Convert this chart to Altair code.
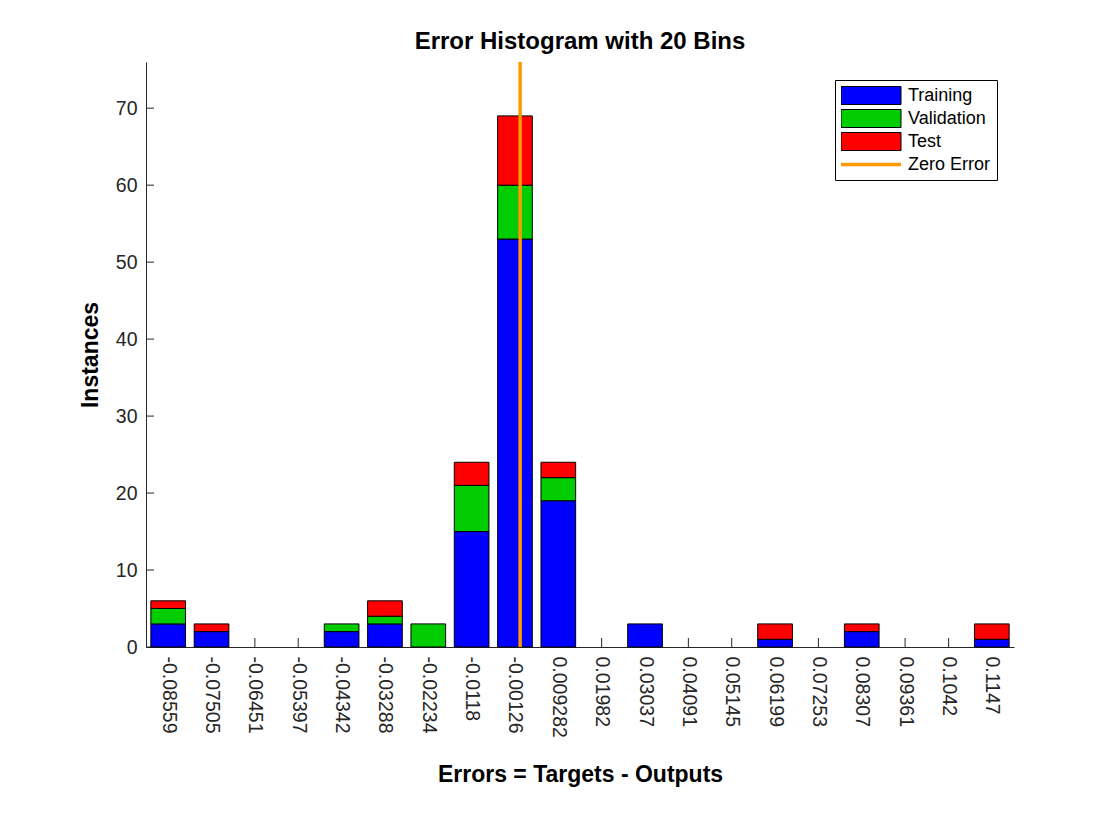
import altair as alt
import pandas as pd

# ---- data ----
bin_labels = ["-0.08559", "-0.07505", "-0.06451", "-0.05397", "-0.04342", "-0.03288",
              "-0.02234", "-0.0118", "-0.00126", "0.009282", "0.01982", "0.03037",
              "0.04091", "0.05145", "0.06199", "0.07253", "0.08307", "0.09361",
              "0.1042", "0.1147"]
bin_centers = [float(s) for s in bin_labels]
training   = [3, 2, 0, 0, 2, 3, 0, 15, 53, 19, 0, 3, 0, 0, 1, 0, 2, 0, 0, 1]
validation = [2, 0, 0, 0, 1, 1, 3, 6, 7, 3, 0, 0, 0, 0, 0, 0, 0, 0, 0, 0]
test       = [1, 1, 0, 0, 0, 2, 0, 3, 9, 2, 0, 0, 0, 0, 2, 0, 1, 0, 0, 2]
series_names = ["Training", "Validation", "Test", "Zero Error"]
series_colors = ["#0000FF", "#00CC00", "#FF0000", "#FF9900"]
y_ticks = [0, 10, 20, 30, 40, 50, 60, 70]
zero_error = 0.0

# ---- layout ----
W, H = 868, 585
bw = (bin_centers[-1] - bin_centers[0]) / (len(bin_centers) - 1)
x_dom = [bin_centers[0] - 0.512 * bw, bin_centers[-1] + 0.512 * bw]
FONT = "Liberation Sans"
TXT = "#262626"
TICK_FS = 19.5
LABEL_FS = 23

rows = []
for i, c in enumerate(bin_centers):
    for k, (name, vals) in enumerate(zip(series_names[:3], [training, validation, test])):
        if vals[i] > 0:
            rows.append({"center": c, "series": name, "order": k, "count": vals[i]})
df = pd.DataFrame(rows)
df_xt = pd.DataFrame({"center": bin_centers})
df_yt = pd.DataFrame({"tick": y_ticks})

label_arr = "[" + ",".join("'%s'" % s for s in bin_labels) + "]"
label_expr = "%s[round((datum.value - (%r)) / %r)]" % (label_arr, bin_centers[0], bw)

xscale = alt.Scale(domain=x_dom, nice=False, zero=False)
yscale = alt.Scale(domain=[0, 76], nice=False)
cscale = alt.Scale(domain=series_names, range=series_colors)

is_zero = "datum.value === 'Zero Error'"
fill_expr = is_zero + " ? 'transparent' : " + " : ".join(
    "datum.value === '%s' ? '%s'" % (n, c) for n, c in zip(series_names[:3], series_colors[:3])
) + " : 'black'"
legend = alt.Legend(
    title=None, orient="none", legendX=689, legendY=18,
    strokeColor="black", fillColor="white", padding=6,
    labelFont=FONT, labelFontSize=18, labelColor="black", labelOffset=28,
    symbolSize=3600, clipHeight=19, rowPadding=4, symbolOffset=21,
    symbolType={"expr": is_zero + " ? 'M-1,0H1' : 'M-1,-0.3H1V0.3H-1Z'"},
    symbolStrokeColor={"expr": is_zero + " ? '%s' : 'black'" % series_colors[3]},
    symbolStrokeWidth={"expr": is_zero + " ? 3.5 : 1"},
    symbolFillColor={"expr": fill_expr},
    symbolOpacity=1,
)

xticks = alt.Chart(df_xt).mark_rule(color=TXT, strokeWidth=1).encode(
    x=alt.X("center:Q", scale=xscale),
    y=alt.value(H), y2=alt.value(H - 9),
)
yticks = alt.Chart(df_yt).mark_rule(color=TXT, strokeWidth=1).encode(
    y=alt.Y("tick:Q", scale=yscale),
    x=alt.value(0), x2=alt.value(8),
)

bars = alt.Chart(df).mark_bar(stroke="black", strokeWidth=1, opacity=1).transform_calculate(
    lo="datum.center - %r" % (0.4 * bw), hi="datum.center + %r" % (0.4 * bw)
).transform_stack(
    stack="count", as_=["y0", "y1"], groupby=["center"], sort=[{"field": "order"}]
).encode(
    x=alt.X("lo:Q", scale=xscale, title="Errors = Targets - Outputs",
            axis=alt.Axis(values=bin_centers, labelExpr=label_expr, labelAngle=90,
                          ticks=False, grid=False, labelPadding=9,
                          labelFontSize=TICK_FS, labelFont=FONT, labelColor=TXT,
                          domainColor=TXT, titleFont=FONT, titleFontSize=LABEL_FS,
                          titleFontWeight="bold", titleColor="black", titlePadding=26,
                          labelOverlap=False, labelFlush=False)),
    x2="hi:Q",
    y=alt.Y("y0:Q", scale=yscale, title="Instances",
            axis=alt.Axis(values=y_ticks, ticks=False, grid=False, labelPadding=9,
                          labelFontSize=TICK_FS, labelFont=FONT, labelColor=TXT,
                          domainColor=TXT, titleFont=FONT, titleFontSize=LABEL_FS,
                          titleFontWeight="bold", titleColor="black", titlePadding=13)),
    y2="y1:Q",
    color=alt.Color("series:N", scale=cscale, legend=legend),
)

zero_line = alt.Chart(pd.DataFrame({"z": [zero_error]})).mark_rule(
    strokeWidth=3.5, color=series_colors[3]
).encode(
    x=alt.X("z:Q", scale=xscale),
)

chart = alt.layer(xticks, yticks, bars, zero_line).properties(
    width=W, height=H,
    title=alt.TitleParams("Error Histogram with 20 Bins", font=FONT, fontSize=24,
                          fontWeight="bold", color="black", offset=6),
    autosize=alt.AutoSizeParams(type="none"),
    padding={"left": 138, "top": 54, "right": 98, "bottom": 185},
).configure(background="white", view=alt.ViewConfig(stroke=None))

chart.save("out.html", embed_options={"renderer": "svg", "actions": False})
